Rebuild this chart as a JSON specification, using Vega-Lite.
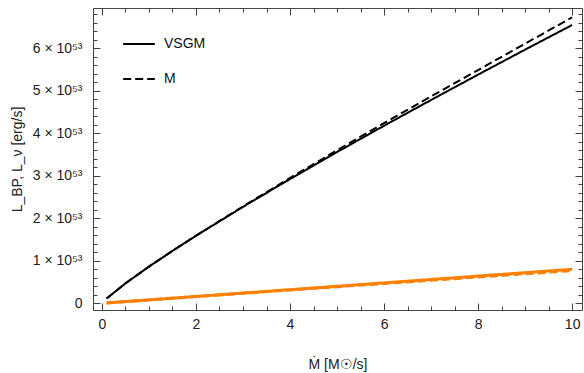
{
  "$schema": "https://vega.github.io/schema/vega-lite/v6.json",
  "width": 489,
  "height": 302,
  "autosize": {"type": "none"},
  "padding": {"left": 93, "top": 8, "right": 2, "bottom": 63},
  "config": {
    "view": {"stroke": "#444", "strokeWidth": 1},
    "font": "Liberation Sans",
    "axis": {"labelFont": "Liberation Sans", "titleFont": "Liberation Sans", "labelColor": "#222", "titleColor": "#222", "domain": false, "grid": false, "tickColor": "#444", "labelFontSize": 14, "titleFontSize": 14, "titleFontWeight": "normal"}
  },
  "data": {"values": [
    {"Mdot": 0.1, "L": 1.14e52, "model": "VSGM", "kind": "L_BP"},
    {"Mdot": 0.5, "L": 4.69e52, "model": "VSGM", "kind": "L_BP"},
    {"Mdot": 1, "L": 8.63e52, "model": "VSGM", "kind": "L_BP"},
    {"Mdot": 1.5, "L": 1.233e53, "model": "VSGM", "kind": "L_BP"},
    {"Mdot": 2, "L": 1.589e53, "model": "VSGM", "kind": "L_BP"},
    {"Mdot": 3, "L": 2.27e53, "model": "VSGM", "kind": "L_BP"},
    {"Mdot": 4, "L": 2.925e53, "model": "VSGM", "kind": "L_BP"},
    {"Mdot": 5, "L": 3.559e53, "model": "VSGM", "kind": "L_BP"},
    {"Mdot": 6, "L": 4.179e53, "model": "VSGM", "kind": "L_BP"},
    {"Mdot": 7, "L": 4.785e53, "model": "VSGM", "kind": "L_BP"},
    {"Mdot": 8, "L": 5.382e53, "model": "VSGM", "kind": "L_BP"},
    {"Mdot": 9, "L": 5.97e53, "model": "VSGM", "kind": "L_BP"},
    {"Mdot": 10, "L": 6.55e53, "model": "VSGM", "kind": "L_BP"},
    {"Mdot": 0.1, "L": 1.14e52, "model": "M", "kind": "L_BP"},
    {"Mdot": 0.5, "L": 4.69e52, "model": "M", "kind": "L_BP"},
    {"Mdot": 1, "L": 8.63e52, "model": "M", "kind": "L_BP"},
    {"Mdot": 1.5, "L": 1.234e53, "model": "M", "kind": "L_BP"},
    {"Mdot": 2, "L": 1.592e53, "model": "M", "kind": "L_BP"},
    {"Mdot": 3, "L": 2.28e53, "model": "M", "kind": "L_BP"},
    {"Mdot": 4, "L": 2.95e53, "model": "M", "kind": "L_BP"},
    {"Mdot": 5, "L": 3.6e53, "model": "M", "kind": "L_BP"},
    {"Mdot": 6, "L": 4.24e53, "model": "M", "kind": "L_BP"},
    {"Mdot": 7, "L": 4.87e53, "model": "M", "kind": "L_BP"},
    {"Mdot": 8, "L": 5.49e53, "model": "M", "kind": "L_BP"},
    {"Mdot": 9, "L": 6.11e53, "model": "M", "kind": "L_BP"},
    {"Mdot": 10, "L": 6.73e53, "model": "M", "kind": "L_BP"},
    {"Mdot": 0.1, "L": 8e50, "model": "VSGM", "kind": "L_nu"},
    {"Mdot": 2, "L": 1.6e52, "model": "VSGM", "kind": "L_nu"},
    {"Mdot": 4, "L": 3.2e52, "model": "VSGM", "kind": "L_nu"},
    {"Mdot": 6, "L": 4.8e52, "model": "VSGM", "kind": "L_nu"},
    {"Mdot": 8, "L": 6.4e52, "model": "VSGM", "kind": "L_nu"},
    {"Mdot": 10, "L": 8.0e52, "model": "VSGM", "kind": "L_nu"},
    {"Mdot": 0.1, "L": 8e50, "model": "M", "kind": "L_nu"},
    {"Mdot": 2, "L": 1.58e52, "model": "M", "kind": "L_nu"},
    {"Mdot": 4, "L": 3.13e52, "model": "M", "kind": "L_nu"},
    {"Mdot": 6, "L": 4.66e52, "model": "M", "kind": "L_nu"},
    {"Mdot": 8, "L": 6.18e52, "model": "M", "kind": "L_nu"},
    {"Mdot": 10, "L": 7.7e52, "model": "M", "kind": "L_nu"}
  ]},
  "layer": [
    {
      "mark": {"type": "line", "clip": true},
      "encoding": {
        "x": {"field": "Mdot", "type": "quantitative", "scale": {"domain": [-0.19, 10.21], "nice": false, "zero": false},
          "axis": {"orient": "bottom", "title": "Ṁ [M☉/s]", "values": [0,0.5,1,1.5,2,2.5,3,3.5,4,4.5,5,5.5,6,6.5,7,7.5,8,8.5,9,9.5,10],
            "labelExpr": "datum.value % 2 === 0 ? format(datum.value, 'd') : ''",
            "tickSize": {"condition": {"test": "datum.value % 2 === 0", "value": -7}, "value": -4},
            "labelPadding": 14, "titlePadding": 26}},
        "y": {"field": "L", "type": "quantitative", "scale": {"domain": [-1.58e52, 6.95e53], "nice": false, "zero": false},
          "axis": {"orient": "left", "title": "L_BP, L_ν [erg/s]", "values": [0,2e52,4e52,6e52,8e52,1e53,1.2e53,1.4e53,1.6e53,1.8e53,2e53,2.2e53,2.4e53,2.6e53,2.8e53,3e53,3.2e53,3.4e53,3.6e53,3.8e53,4e53,4.2e53,4.4e53,4.6e53,4.8e53,5e53,5.2e53,5.4e53,5.6e53,5.8e53,6e53,6.2e53,6.4e53,6.6e53,6.8e53],
            "labelExpr": "abs(datum.value/1e53 - round(datum.value/1e53)) < 1e-6 ? (round(datum.value/1e53) === 0 ? '0' : round(datum.value/1e53) + ' × 10⁵³') : ''",
            "tickSize": {"condition": {"test": "abs(datum.value/1e53 - round(datum.value/1e53)) < 1e-6", "value": -7}, "value": -4},
            "labelPadding": 18, "titlePadding": 8}},
        "detail": {"field": "model"},
        "color": {"field": "kind", "type": "nominal", "scale": {"domain": ["L_BP", "L_nu"], "range": ["#000000", "#ff8000"]}, "legend": null},
        "strokeWidth": {"field": "kind", "type": "nominal", "scale": {"domain": ["L_BP", "L_nu"], "range": [2, 3]}, "legend": null},
        "strokeDash": {"field": "model", "type": "nominal", "scale": {"domain": ["VSGM", "M"], "range": [[1, 0], [8, 4]]},
          "legend": {"title": null, "orient": "none", "legendX": 29, "legendY": 19, "symbolType": "stroke", "symbolSize": 1000, "symbolStrokeWidth": 2, "symbolStrokeColor": "#000", "labelFontSize": 14, "labelFont": "Liberation Sans", "labelColor": "#111", "rowPadding": 11, "labelOffset": 8, "padding": 0}}
      }
    },
    {
      "mark": {"type": "point", "opacity": 0},
      "encoding": {
        "x": {"field": "Mdot", "type": "quantitative",
          "axis": {"orient": "top", "title": null, "labels": false, "values": [0,0.5,1,1.5,2,2.5,3,3.5,4,4.5,5,5.5,6,6.5,7,7.5,8,8.5,9,9.5,10],
            "tickSize": {"condition": {"test": "datum.value % 2 === 0", "value": -7}, "value": -4}}},
        "y": {"field": "L", "type": "quantitative",
          "axis": {"orient": "right", "title": null, "labels": false, "values": [0,2e52,4e52,6e52,8e52,1e53,1.2e53,1.4e53,1.6e53,1.8e53,2e53,2.2e53,2.4e53,2.6e53,2.8e53,3e53,3.2e53,3.4e53,3.6e53,3.8e53,4e53,4.2e53,4.4e53,4.6e53,4.8e53,5e53,5.2e53,5.4e53,5.6e53,5.8e53,6e53,6.2e53,6.4e53,6.6e53,6.8e53],
            "tickSize": {"condition": {"test": "abs(datum.value/1e53 - round(datum.value/1e53)) < 1e-6", "value": -7}, "value": -4}}}
      }
    }
  ]
}
